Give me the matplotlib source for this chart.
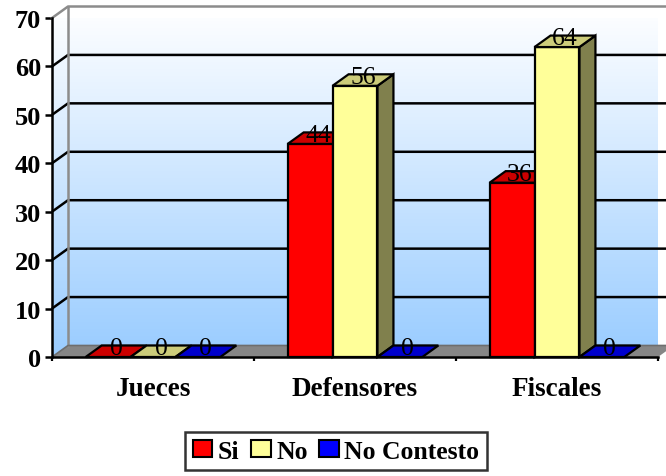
import matplotlib
matplotlib.use("Agg")
import matplotlib.pyplot as plt
import numpy as np
from matplotlib.patches import Polygon, Patch
from matplotlib.colors import to_rgb

# ---- data -------------------------------------------------------------
categories = ["Jueces", "Defensores", "Fiscales"]
series_names = ["Si", "No", "No Contesto"]
si = [0, 44, 36]
no = [0, 56, 64]
no_contesto = [0, 0, 0]
y_ticks = [0, 10, 20, 30, 40, 50, 60, 70]

series_values = [si, no, no_contesto]
front_colors = ["#FF0000", "#FFFF99", "#0000FF"]
top_colors = ["#CC0000", "#CCCC7A", "#0000CC"]
side_colors = ["#990000", "#80804D", "#000099"]

plt.rcParams["font.family"] = ["Liberation Serif", "DejaVu Serif"]

# ---- figure / axes geometry -------------------------------------------
W, H = 666, 477
fig = plt.figure(figsize=(W / 100, H / 100), dpi=100)
fig.patch.set_facecolor("white")

px_left, px_right, px_bottom, px_top = 52, 658, 358, 19
ax = fig.add_axes([px_left / W, 1 - px_bottom / H,
                   (px_right - px_left) / W, (px_bottom - px_top) / H])
ymax = y_ticks[-1]
x0, x1 = -0.5, len(categories) - 0.5
ax.set_xlim(x0, x1)
ax.set_ylim(0, ymax)
ax.set_facecolor("none")

ux = (x1 - x0) / (px_right - px_left)      # data units per pixel (x)
uy = ymax / (px_bottom - px_top)            # data units per pixel (y)
dx, dy = 16 * ux, 11.5 * uy                 # depth offset of the 3-D box

# ---- walls (gradient) ---------------------------------------------------
wall = Polygon([(x0, 0), (x0, ymax), (x0 + dx, ymax + dy), (x1 + dx, ymax + dy),
                (x1 + dx, dy), (x0 + dx, dy)], closed=True,
               transform=ax.transData, facecolor="none", edgecolor="none")
top_rgb = np.array(to_rgb("#FFFFFF"))
bot_rgb = np.array(to_rgb("#99CCFF"))
t = np.linspace(0, 1, 256)[:, None, None]
grad = top_rgb * (1 - t) + bot_rgb * t
im = ax.imshow(grad, extent=[x0, x1 + dx, 0, ymax + dy], aspect="auto",
               origin="upper", zorder=0, interpolation="bilinear")
im.set_clip_path(wall)
im.set_clip_box(None)
ax.set_xlim(x0, x1)
ax.set_ylim(0, ymax)

# floor
ax.add_patch(Polygon([(x0, 0), (x1, 0), (x1 + dx, dy), (x0 + dx, dy)], closed=True,
                     facecolor="#868686", edgecolor="none", zorder=1, clip_on=False))

# gridlines running across the side wall and the back wall
for v in y_ticks[1:-1]:
    ax.plot([x0, x0 + dx, x1 + dx], [v, v + dy, v + dy], color="black",
            lw=1.8, zorder=2, clip_on=False, solid_capstyle="butt")

# wall outlines
wall_kw = dict(color="#8C8C8C", lw=1.8, zorder=2, clip_on=False)
ax.plot([x0, x0 + dx, x1 + dx], [ymax, ymax + dy, ymax + dy], **wall_kw)
ax.plot([x0 + dx, x0 + dx], [dy, ymax + dy], **wall_kw)
ax.plot([x0, x0 + dx, x1 + dx], [0, dy, dy], color="#6E6E6E", lw=1.2,
        zorder=2, clip_on=False)

# ---- 3-D bars ----------------------------------------------------------
w = 1 / 4.5
edge = dict(edgecolor="black", linewidth=1.6, joinstyle="miter", clip_on=False)
z = 5
for i in range(len(categories)):
    for j, vals in enumerate(series_values):
        v = vals[i]
        left = i - 1.5 * w + j * w
        right = left + w
        if v > 0:
            ax.add_patch(Polygon([(right, 0), (right + dx, dy), (right + dx, v + dy), (right, v)],
                                 closed=True, facecolor=side_colors[j], zorder=z, **edge))
            ax.add_patch(Polygon([(left, 0), (right, 0), (right, v), (left, v)],
                                 closed=True, facecolor=front_colors[j], zorder=z + 1, **edge))
        ax.add_patch(Polygon([(left, v), (right, v), (right + dx, v + dy), (left + dx, v + dy)],
                             closed=True, facecolor=top_colors[j], zorder=z + 2, **edge))
        z += 3

# value labels
for i in range(len(categories)):
    for j, vals in enumerate(series_values):
        v = vals[i]
        left = i - 1.5 * w + j * w
        ax.text(left + w / 2 + dx / 2, v + 3 * uy, f"{v:g}", ha="center", va="baseline",
                fontsize=18.5, color="black", zorder=100, clip_on=False)

# ---- axes, ticks, labels ------------------------------------------------
for s in ["top", "right"]:
    ax.spines[s].set_visible(False)
for s in ["left", "bottom"]:
    ax.spines[s].set_linewidth(1.8)
    ax.spines[s].set_color("black")
    ax.spines[s].set_zorder(50)

ax.set_yticks(y_ticks)
ax.set_yticklabels([str(v) for v in y_ticks], fontsize=19, fontweight="bold")
ax.tick_params(axis="y", direction="out", length=5, width=1.8, pad=3)

ax.set_xticks(np.arange(len(categories) + 1) - 0.5)
ax.set_xticklabels([])
ax.tick_params(axis="x", which="major", direction="out", length=3, width=1.6)
ax.set_xticks(np.arange(len(categories)), minor=True)
ax.set_xticklabels(categories, minor=True, fontsize=19.5, fontweight="bold")
ax.tick_params(axis="x", which="minor", length=0, pad=14)

# ---- legend -------------------------------------------------------------
handles = [Patch(facecolor=c, edgecolor="black", linewidth=1.5) for c in front_colors]
leg = fig.legend(handles, series_names, loc="upper left",
                 bbox_to_anchor=(185 / W, 1 - 433 / H), ncol=3,
                 frameon=True, fancybox=False, edgecolor="black",
                 prop={"size": 18.5, "weight": "bold"},
                 handlelength=0.76, handleheight=0.64, handletextpad=0.22,
                 columnspacing=0.45, borderpad=0.3, borderaxespad=0)
leg.get_frame().set_linewidth(1.8)

fig.savefig("out.png", dpi=100)
